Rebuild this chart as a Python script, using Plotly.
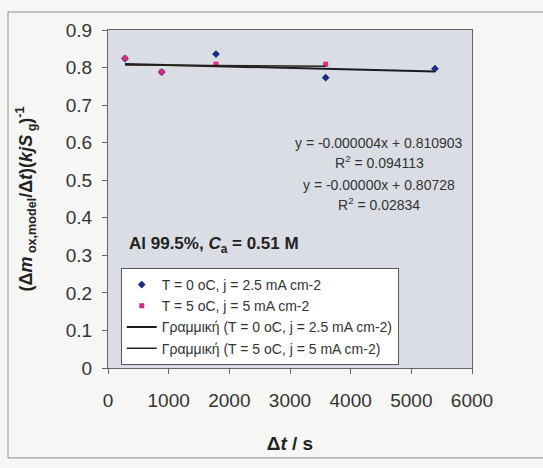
import numpy as np
import plotly.graph_objects as go

# Oxide-growth rate data, two anodising conditions
t_series0 = [280, 885, 1780, 3588, 5390]          # Δt / s, T = 0 oC
y_series0 = [0.824, 0.788, 0.836, 0.773, 0.797]

t_series5 = [280, 885, 1780, 3588]                # Δt / s, T = 5 oC
y_series5 = [0.825, 0.7885, 0.809, 0.809]

# Linear trendlines (slope, intercept) and their labels
fit0 = (-0.000004, 0.810903)
fit5 = (-0.000001, 0.80728)
fit0_text = ["y = -0.000004x + 0.810903", "R<sup>2</sup> = 0.094113"]
fit5_text = ["y = -0.00000x + 0.80728", "R<sup>2</sup> = 0.02834"]

name0 = "T = 0 oC, j = 2.5 mA cm-2"
name5 = "T = 5 oC, j = 5 mA cm-2"

FONT = "Liberation Sans, Arial, sans-serif"
BLUE = "#1b2a8c"
PINK = "#e02a80"

fig = go.Figure()

fig.add_trace(go.Scatter(
    x=t_series0, y=y_series0, mode="markers", name=name0,
    marker=dict(symbol="diamond", size=6, color=BLUE),
))
fig.add_trace(go.Scatter(
    x=t_series5, y=y_series5, mode="markers", name=name5,
    marker=dict(symbol="square", size=5, color=PINK),
))

def trend(ts, fit):
    xs = np.array([min(ts), max(ts)], dtype=float)
    return xs, fit[0] * xs + fit[1]

x0l, y0l = trend(t_series0, fit0)
x5l, y5l = trend(t_series5, fit5)
fig.add_trace(go.Scatter(
    x=x0l, y=y0l, mode="lines", name="Γραμμική (" + name0 + ")",
    line=dict(color="#1a1a22", width=2),
))
fig.add_trace(go.Scatter(
    x=x5l, y=y5l, mode="lines", name="Γραμμική (" + name5 + ")",
    line=dict(color="#2a2418", width=1.5),
))

ann = []
# trendline equations
eq_y = [0.666, 0.609, 0.541, 0.485]
for txt, yy in zip(fit0_text + fit5_text, eq_y):
    ann.append(dict(
        x=0.745, y=yy, xref="paper", yref="paper", text=txt, showarrow=False,
        xanchor="center", yanchor="middle",
        font=dict(family=FONT, size=14, color="#333333"),
    ))
ann.append(dict(
    x=0.052, y=0.364, xref="paper", yref="paper",
    text="<b>Al 99.5%, <i>C</i><sub>a</sub> = 0.51 M</b>", showarrow=False,
    xanchor="left", yanchor="middle",
    font=dict(family=FONT, size=17, color="#222222"),
))

fig.update_layout(
    width=543, height=468,
    margin=dict(l=108, r=71, t=30, b=100),
    paper_bgcolor="#f6f6f4",
    plot_bgcolor="#dadee4",
    font=dict(family=FONT, color="#333333"),
    showlegend=True,
    legend=dict(
        x=0.035, y=0.296, xanchor="left", yanchor="top",
        bgcolor="#ffffff", bordercolor="#555555", borderwidth=1,
        font=dict(family=FONT, size=14, color="#333333"),
        itemwidth=30, tracegroupgap=0,
    ),
    annotations=ann,
    shapes=[dict(
        type="rect", xref="paper", yref="paper",
        x0=-0.2747, x1=1.25, y0=-0.266, y1=1.0533,
        line=dict(color="#8a9290", width=1), fillcolor="rgba(0,0,0,0)",
        layer="below",
    )],
)

fig.update_xaxes(
    range=[0, 6000], dtick=1000, tick0=0,
    showgrid=False, zeroline=False,
    showline=True, linecolor="#666666", linewidth=1, mirror=True,
    ticks="outside", ticklen=5, tickcolor="#666666", ticklabelstandoff=10,
    tickfont=dict(family=FONT, size=19, color="#333333"),
    title=dict(text="<b>Δ<i>t</i> / s</b>", standoff=26,
               font=dict(family=FONT, size=19, color="#222222")),
)
fig.update_yaxes(
    range=[0, 0.9], dtick=0.1, tick0=0,
    showgrid=False, zeroline=False,
    showline=True, linecolor="#666666", linewidth=1, mirror=True,
    ticks="outside", ticklen=5, tickcolor="#666666", ticklabelstandoff=6,
    tickfont=dict(family=FONT, size=19, color="#333333"),
    title=dict(
        text="<b>(Δ<i>m</i><sub> ox,model</sub>/Δ<i>t</i>)(<i>kjS</i><sub> g</sub>)<sup>-1</sup></b>",
        standoff=28, font=dict(family=FONT, size=18, color="#222222"),
    ),
)

fig.write_html("out.html")
